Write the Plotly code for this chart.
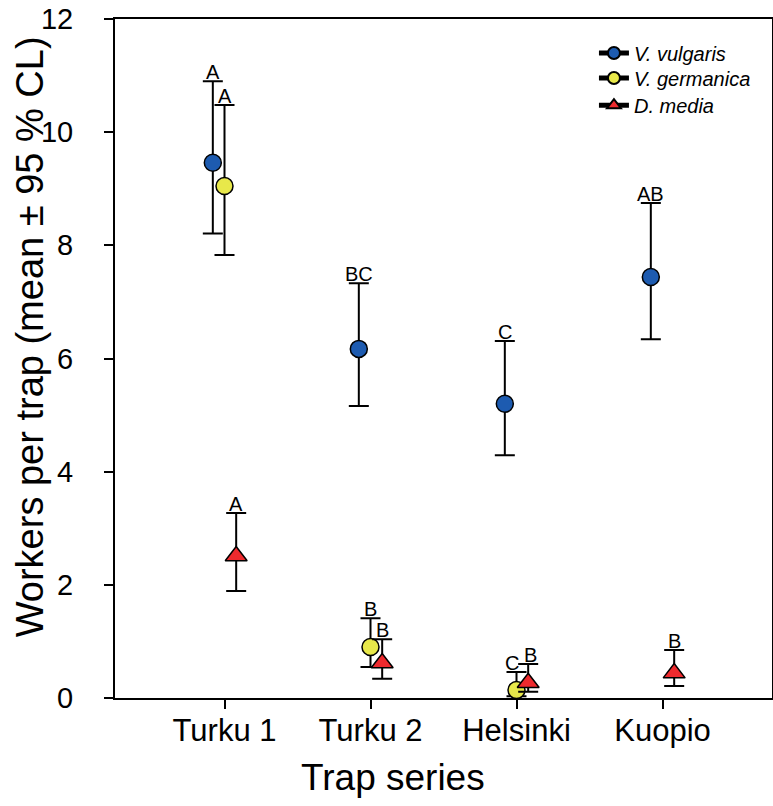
import plotly.graph_objects as go

categories = ["Turku 1", "Turku 2", "Helsinki", "Kuopio"]
cat_pos = [1, 2, 3, 4]

species = ["V. vulgaris", "V. germanica", "D. media"]
offsets = [-0.08, 0.0, 0.08]
colors = ["#1d5bb0", "#e8e84a", "#ee2a2e"]
symbols = ["circle", "circle", "triangle-up"]

# mean, lower CL, upper CL  (None = not present)
vulgaris_mean = [9.46, 6.17, 5.20, 7.44]
vulgaris_low = [8.21, 5.16, 4.29, 6.34]
vulgaris_high = [10.90, 7.33, 6.31, 8.75]
vulgaris_letters = ["A", "BC", "C", "AB"]

germanica_mean = [9.05, 0.90, 0.14, None]
germanica_low = [7.83, 0.55, 0.03, None]
germanica_high = [10.48, 1.41, 0.46, None]
germanica_letters = ["A", "B", "C", None]

media_mean = [2.51, 0.62, 0.27, 0.44]
media_low = [1.89, 0.34, 0.11, 0.21]
media_high = [3.27, 1.04, 0.60, 0.85]
media_letters = ["A", "B", "B", "B"]

series = [
    (vulgaris_mean, vulgaris_low, vulgaris_high, vulgaris_letters),
    (germanica_mean, germanica_low, germanica_high, germanica_letters),
    (media_mean, media_low, media_high, media_letters),
]

# small horizontal nudges for crowded letters (series index, category index) -> px
letter_nudge = {(1, 2): -5, (2, 2): 2}

FONT = "Liberation Sans, Arial, sans-serif"

fig = go.Figure()
annotations = []
for i, (mean, low, high, letters) in enumerate(series):
    xs, ys, eplus, eminus = [], [], [], []
    for j, m in enumerate(mean):
        if m is None:
            continue
        x = cat_pos[j] + offsets[i]
        xs.append(x)
        ys.append(m)
        eplus.append(high[j] - m)
        eminus.append(m - low[j])
        annotations.append(dict(
            x=x, y=high[j], xref="x", yref="y", text=letters[j],
            showarrow=False, yanchor="bottom", yshift=-4,
            xshift=letter_nudge.get((i, j), 0),
            font=dict(family=FONT, size=20, color="black")))
    fig.add_trace(go.Scatter(
        x=xs, y=ys, mode="markers", showlegend=False,
        marker=dict(symbol=symbols[i], size=17 if symbols[i] == "circle" else 19,
                    color=colors[i], line=dict(color="black", width=1.5)),
        error_y=dict(type="data", symmetric=False, array=eplus, arrayminus=eminus,
                     color="black", thickness=2, width=10),
    ))

legend_ids = ["legend", "legend2", "legend3"]
legend_y = [0.950, 0.913, 0.873]
for i, name in enumerate(species):
    fig.add_trace(go.Scatter(
        x=[None], y=[None], mode="lines+markers", name="<i>" + name + "</i>",
        legend=legend_ids[i],
        line=dict(color="black", width=1.2),
        marker=dict(symbol=symbols[i], size=16, color=colors[i],
                    line=dict(color="black", width=1.2)),
    ))

# axis titles
annotations.append(dict(
    text="Trap series", xref="paper", yref="paper", x=0.423, y=-0.117,
    xanchor="center", yanchor="middle", showarrow=False,
    font=dict(family=FONT, size=37, color="black")))
annotations.append(dict(
    text="Workers per trap (mean ± 95 % CL)", xref="paper", yref="paper",
    x=-0.13, y=0.532, textangle=-90, xanchor="center", yanchor="middle",
    showarrow=False, font=dict(family=FONT, size=38, color="black")))

legend_common = dict(x=0.729, xanchor="left", yanchor="middle",
                     bgcolor="rgba(0,0,0,0)", font=dict(family=FONT, size=20),
                     itemsizing="constant")

fig.update_layout(
    width=773, height=806,
    margin=dict(l=115, r=1, t=19, b=108),
    paper_bgcolor="white", plot_bgcolor="white",
    font=dict(family=FONT, color="black"),
    annotations=annotations,
    legend=dict(y=legend_y[0], **legend_common),
    legend2=dict(y=legend_y[1], **legend_common),
    legend3=dict(y=legend_y[2], **legend_common),
    xaxis=dict(
        range=[0.25, 4.75], tickmode="array", tickvals=cat_pos, ticktext=categories,
        showgrid=False, zeroline=False, showline=True, linecolor="black", linewidth=2,
        mirror=True, ticks="outside", ticklen=9, tickwidth=2, tickcolor="black",
        tickfont=dict(family=FONT, size=31), automargin=False, ticklabelstandoff=-5,
    ),
    yaxis=dict(
        range=[0, 12], tickvals=[0, 2, 4, 6, 8, 10, 12],
        showgrid=False, zeroline=False, showline=True, linecolor="black", linewidth=2,
        mirror=True, ticks="outside", ticklen=9, tickwidth=2, tickcolor="black",
        tickfont=dict(family=FONT, size=29), ticklabelstandoff=25,
        ticklabeloverflow="allow", automargin=False,
    ),
)

fig.write_html("out.html", config={"displayModeBar": False},
               post_script="document.body.style.margin='0';")
